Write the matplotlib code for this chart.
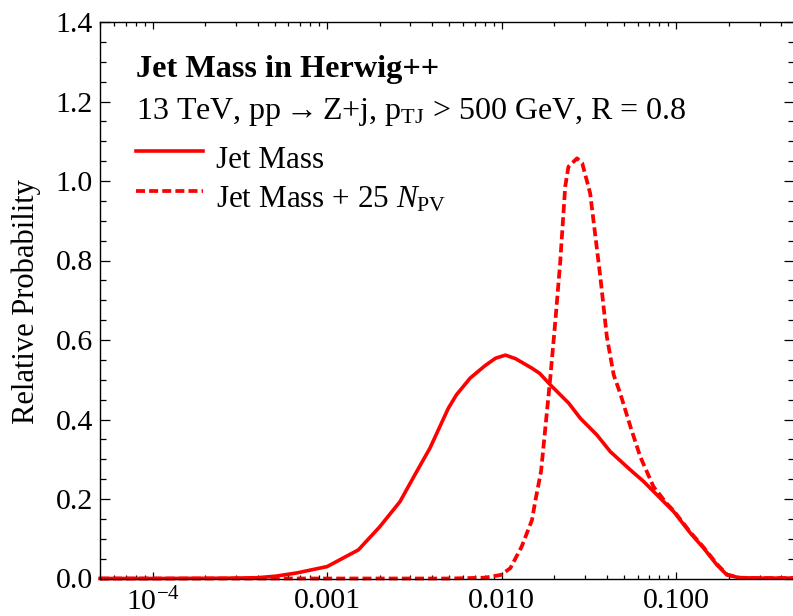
import matplotlib
matplotlib.use("Agg")
import matplotlib.pyplot as plt
from matplotlib.lines import Line2D
from matplotlib.ticker import FixedLocator, FixedFormatter, LogLocator, MultipleLocator, NullFormatter

plt.rcParams['font.family'] = ['Liberation Serif', 'DejaVu Serif']
plt.rcParams['mathtext.fontset'] = 'custom'
plt.rcParams['mathtext.rm'] = 'Liberation Serif'
plt.rcParams['mathtext.it'] = 'Liberation Serif:italic'
plt.rcParams['mathtext.bf'] = 'Liberation Serif:bold'
plt.rcParams['mathtext.fallback'] = 'stix'

# ---- data ----
solid_x = [5e-5, 1e-4, 2e-4, 3e-4, 4e-4, 5.1e-4, 6.7e-4, 1.0e-3, 1.51e-3, 2.0e-3,
           2.61e-3, 3.2e-3, 3.88e-3, 4.94e-3, 5.5e-3, 6.59e-3, 8.0e-3, 9.2e-3, 1.05e-2,
           1.2e-2, 1.49e-2, 1.65e-2, 1.9e-2, 2.42e-2, 2.82e-2, 3.51e-2, 4.19e-2, 5.46e-2,
           6.5e-2, 7.76e-2, 9.67e-2, 0.1205, 0.1436, 0.171, 0.195, 0.23, 0.3, 0.5]
solid_y = [0.0, 0.0, 0.0005, 0.001, 0.002, 0.006, 0.014, 0.030, 0.072, 0.130,
           0.193, 0.263, 0.328, 0.428, 0.462, 0.504, 0.535, 0.554, 0.562,
           0.553, 0.529, 0.516, 0.487, 0.441, 0.403, 0.361, 0.319, 0.273,
           0.244, 0.210, 0.168, 0.114, 0.076, 0.034, 0.009, 0.002, 0.001, 0.001]

dash_x = [5e-5, 1e-3, 5e-3, 8e-3, 9.9e-3, 1.12e-2, 1.3e-2, 1.49e-2, 1.56e-2, 1.68e-2,
          1.9e-2, 2.03e-2, 2.16e-2, 2.31e-2, 2.41e-2, 2.7e-2, 2.89e-2, 3.21e-2, 3.67e-2,
          4.0e-2, 4.38e-2, 4.77e-2, 5.46e-2, 6.22e-2, 7.4e-2, 8.8e-2, 9.67e-2, 0.1205,
          0.1436, 0.171, 0.195, 0.23, 0.3, 0.5]
dash_y = [0.0, 0.0, 0.0, 0.002, 0.009, 0.026, 0.080, 0.147, 0.197, 0.270,
          0.508, 0.650, 0.793, 0.986, 1.036, 1.057, 1.045, 0.969, 0.759,
          0.608, 0.512, 0.466, 0.382, 0.306, 0.231, 0.189, 0.170, 0.116,
          0.078, 0.036, 0.010, 0.002, 0.001, 0.001]

x_ticks = [1e-4, 1e-3, 1e-2, 1e-1]
x_tick_labels = [r'$10^{-4}$', '0.001', '0.010', '0.100']
y_ticks = [0.0, 0.2, 0.4, 0.6, 0.8, 1.0, 1.2, 1.4]
y_tick_labels = ['0.0', '0.2', '0.4', '0.6', '0.8', '1.0', '1.2', '1.4']

title_text = 'Jet Mass in Herwig++'
subtitle_text = r'13 TeV, pp$\rightarrow$Z+j, p$_{\mathrm{TJ}}$ > 500 GeV, R = 0.8'
legend_labels = ['Jet Mass', r'Jet Mass + 25 $N_{\mathrm{PV}}$']
y_label = 'Relative Probability'

# ---- figure ----
W, H = 793, 616
fig = plt.figure(figsize=(W / 100, H / 100), dpi=100)

def fx(px):
    return px / W

def fy(py):
    return 1 - py / H

ax_left, ax_right, ax_top, ax_bottom = 100, 793.5, 22, 578.5
ax = fig.add_axes([fx(ax_left), fy(ax_bottom), fx(ax_right - ax_left), (ax_bottom - ax_top) / H])

red = '#ff0000'
ax.plot(solid_x, solid_y, color=red, lw=2.6, solid_joinstyle='round', clip_on=False, zorder=2)
ax.plot(dash_x, dash_y, color=red, lw=2.7, ls=(0, (2.4, 1.1)), clip_on=False, zorder=2)

ax.set_xscale('log')
ax.set_xlim(5e-5, 0.469)
ax.set_ylim(0, 1.4)

ax.xaxis.set_major_locator(FixedLocator(x_ticks))
ax.xaxis.set_major_formatter(FixedFormatter(x_tick_labels))
ax.xaxis.set_minor_locator(LogLocator(base=10, subs=range(2, 10), numticks=20))
ax.xaxis.set_minor_formatter(NullFormatter())
ax.yaxis.set_major_locator(FixedLocator(y_ticks))
ax.yaxis.set_major_formatter(FixedFormatter(y_tick_labels))
ax.yaxis.set_minor_locator(MultipleLocator(0.05))

ax.tick_params(which='both', direction='in', top=True, right=True, colors='black',
               labelsize=21.5, width=0.9)
ax.tick_params(axis='x', which='major', length=5, pad=7)
ax.tick_params(axis='x', which='minor', length=2.6)
ax.tick_params(axis='y', which='major', length=7.2, pad=5)
ax.tick_params(axis='y', which='minor', length=4.3)
for s in ax.spines.values():
    s.set_linewidth(1.0)

fig.text(fx(26), fy(302), y_label, rotation=90, ha='center', va='center', fontsize=22)

# annotations / legend
fig.text(fx(136), fy(77), title_text, fontsize=23.2, fontweight='bold', va='baseline', ha='left')
fig.text(fx(136), fy(119), subtitle_text, fontsize=23, va='baseline', ha='left')
fig.add_artist(Line2D([fx(136), fx(203)], [fy(151), fy(151)], color=red, lw=2.6,
                      transform=fig.transFigure))
fig.add_artist(Line2D([fx(136), fx(203)], [fy(190.7), fy(190.7)], color=red, lw=2.7,
                      ls=(0, (2.4, 1.1)), transform=fig.transFigure))
fig.text(fx(216.5), fy(168.3), legend_labels[0], fontsize=22.4, va='baseline', ha='left')
fig.text(fx(216.5), fy(207.7), legend_labels[1], fontsize=22.4, va='baseline', ha='left')

fig.savefig('out.png', dpi=100)
